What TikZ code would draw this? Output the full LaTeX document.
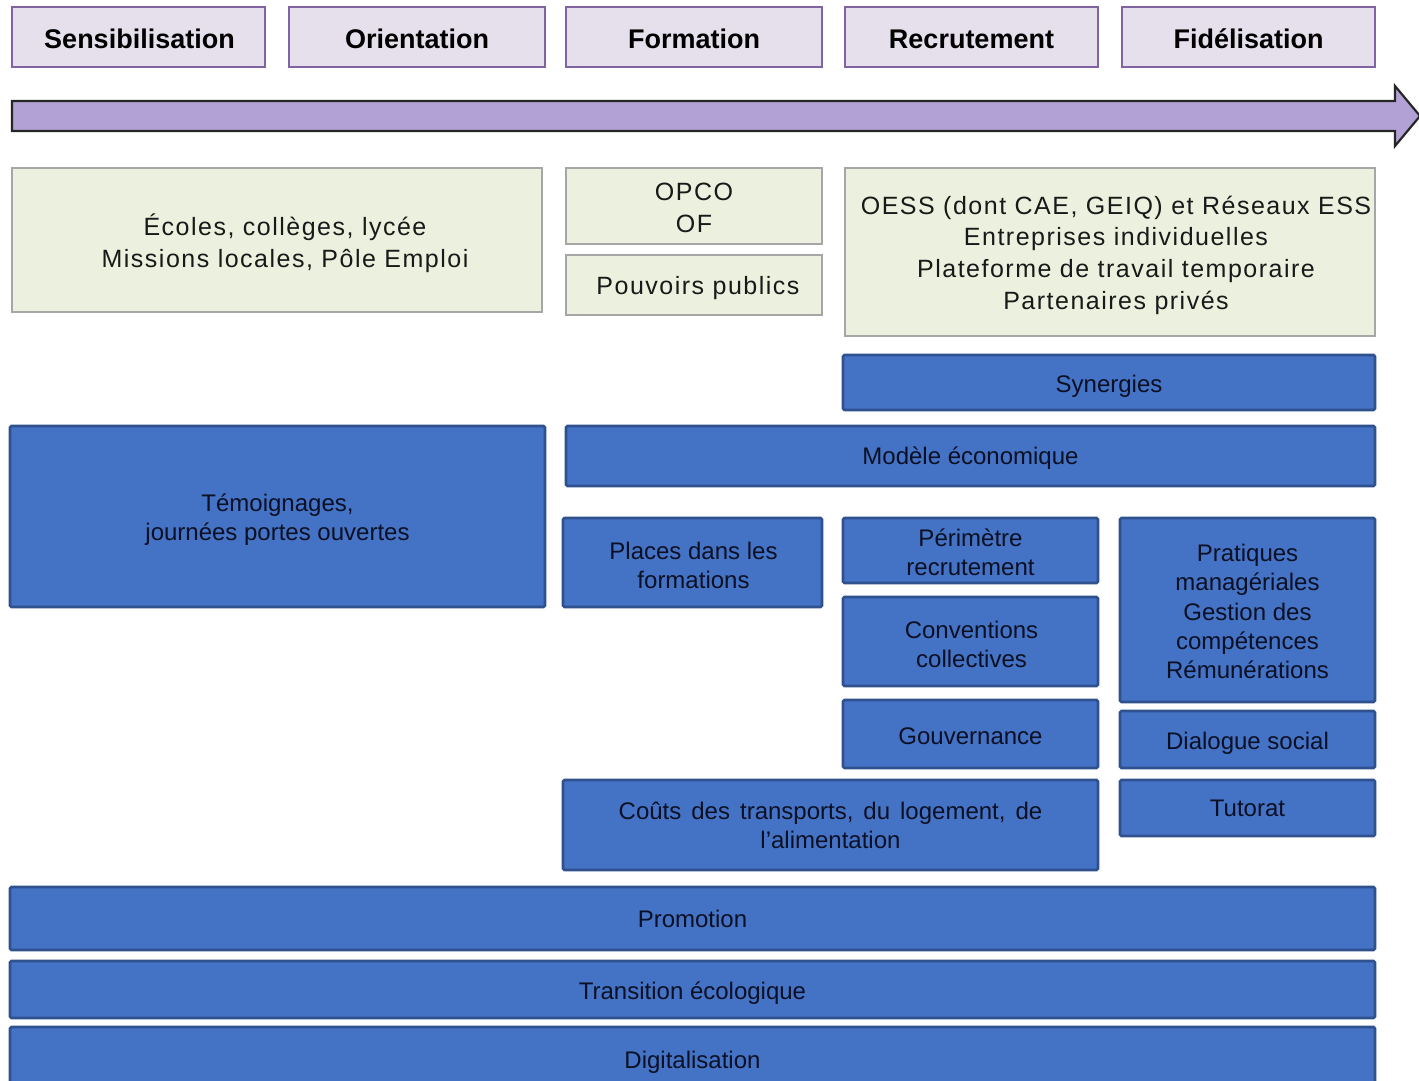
\documentclass[tikz,border=0pt]{standalone}
\usepackage{fontspec}
\setmainfont{Liberation Sans}
\definecolor{headfill}{HTML}{E6E0EC}
\definecolor{headdraw}{HTML}{8064A2}
\definecolor{arrowfill}{HTML}{B2A1D5}
\definecolor{arrowdraw}{HTML}{262626}
\definecolor{greenfill}{HTML}{EBF1DE}
\definecolor{greendraw}{HTML}{A6A6A6}
\definecolor{bluefill}{HTML}{4472C4}
\definecolor{bluedraw}{HTML}{2F528F}
\definecolor{bluetext}{HTML}{0B1024}
% style, name, x1, y1, x2, y2, text, text dx, text dy (pixels, down positive)
\newcommand{\bxnode}[9]{%
  \node[#1, minimum width={#5-#3}, minimum height={#6-#4},
    label={[#1 text, xshift=#8pt, yshift=-#9pt]center:#7}] (#2) at ({(#3+#5)/2},{(#4+#6)/2}) {};}
\newcommand{\wsp}{\hspace{10pt}}
\begin{document}
\begin{tikzpicture}[x=1pt,y=-1pt,
  headbox/.style={draw=headdraw, fill=headfill, line width=1.8pt, inner sep=0pt},
  headbox text/.style={inner sep=0pt, font=\fontsize{27}{30}\selectfont\bfseries, text=black},
  greenbox/.style={draw=greendraw, fill=greenfill, line width=1.8pt, inner sep=0pt},
  greenbox text/.style={inner sep=0pt, align=center,
    font=\fontsize{25}{31.7}\selectfont\addfontfeature{LetterSpace=6}, text=black!90},
  bluebox/.style={draw=bluedraw, fill=bluefill, line width=2.6pt, rounded corners=1.5pt, inner sep=0pt},
  bluebox text/.style={inner sep=0pt, align=center, font=\fontsize{24}{29.2}\selectfont, text=bluetext}]
\useasboundingbox (0,0) rectangle (1419,1081);
\clip (0,0) rectangle (1419,1081);
\fill[white] (0,0) rectangle (1419,1081);
% headers
\bxnode{headbox}{h1}{12}{7}{265}{67}{Sensibilisation}{1}{2}
\bxnode{headbox}{h2}{289}{7}{545}{67}{Orientation}{0}{2}
\bxnode{headbox}{h3}{566}{7}{822}{67}{Formation}{0}{2}
\bxnode{headbox}{h4}{845}{7}{1098}{67}{Recrutement}{0}{2}
\bxnode{headbox}{h5}{1122}{7}{1375}{67}{Fidélisation}{0}{2}
% arrow
\draw[fill=arrowfill, draw=arrowdraw, line width=2.2pt, line join=miter]
  (12,101) -- (1395,101) -- (1395,86) -- (1420,116) -- (1395,146) -- (1395,131) -- (12,131) -- cycle;
% green boxes
\bxnode{greenbox}{g1}{12}{168}{542}{312}{Écoles, collèges, lycée\\Missions locales, Pôle Emploi}{8}{3}
\bxnode{greenbox}{g2}{566}{168}{822}{244}{OPCO\\OF}{0}{2}
\bxnode{greenbox}{g3}{566}{255}{822}{315}{Pouvoirs publics}{4}{3.5}
\bxnode{greenbox}{g4}{845}{168}{1375}{336}{OESS (dont CAE, GEIQ) et Réseaux ESS\\Entreprises individuelles\\Plateforme de travail temporaire\\Partenaires privés}{6}{3}
% blue boxes
\bxnode{bluebox}{b1}{843}{355}{1375}{410}{Synergies}{0}{4}
\bxnode{bluebox}{b2}{566}{426}{1375}{486}{Modèle économique}{0}{2}
\bxnode{bluebox}{b3}{10}{426}{545}{607}{Témoignages,\\journées portes ouvertes}{0}{3}
\bxnode{bluebox}{b4}{563}{518}{822}{607}{Places dans les\\formations}{1}{3}
\bxnode{bluebox}{b5}{843}{518}{1098}{583}{Périmètre\\recrutement}{0}{1.5}
\bxnode{bluebox}{b6}{843}{597}{1098}{686}{Conventions\\collectives}{1}{3}
\bxnode{bluebox}{b7}{843}{700}{1098}{768}{Gouvernance}{0}{2}
\bxnode{bluebox}{b8}{1120}{518}{1375}{702}{Pratiques\\managériales\\Gestion des\\compétences\\Rémunérations}{0}{1.5}
\bxnode{bluebox}{b9}{1120}{711}{1375}{768}{Dialogue social}{0}{4}
\bxnode{bluebox}{b10}{1120}{780}{1375}{836}{Tutorat}{0}{0}
\bxnode{bluebox}{b11}{563}{780}{1098}{870}{Coûts\wsp des\wsp transports,\wsp du\wsp logement,\wsp de\\l’alimentation}{0}{0}
\bxnode{bluebox}{b12}{10}{887}{1375}{950}{Promotion}{0}{0}
\bxnode{bluebox}{b13}{10}{961}{1375}{1018}{Transition écologique}{0}{4}
\bxnode{bluebox}{b14}{10}{1027}{1375}{1095}{Digitalisation}{0}{1}
\end{tikzpicture}
\end{document}
